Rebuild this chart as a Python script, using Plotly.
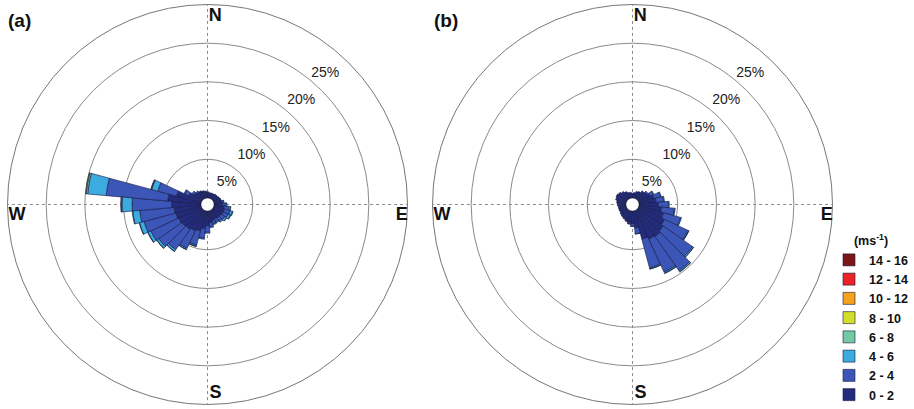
import plotly.graph_objects as go

# Direction sectors (degrees, clockwise from north), 10-degree bins
DIRECTIONS = list(range(0, 360, 10))

# Speed classes (m/s) and their colours, slowest first
SPEED_BINS = ["0 - 2", "2 - 4", "4 - 6", "6 - 8", "8 - 10", "10 - 12", "12 - 14", "14 - 16"]
BIN_COLORS = ["#232b7c", "#3c56b8", "#3cabe0", "#74c8a2", "#d2de2a", "#f7a21d", "#ec2226", "#7e1517"]

# Panel (a): frequency (%) per direction for each speed class
A_0_2 = [0.8, 0.7, 0.7, 0.7, 0.8, 0.8, 0.9, 0.9, 1.0, 1.1, 1.3, 1.4, 1.4, 1.3, 1.3, 1.2, 1.3, 1.5,
         1.9, 2.3, 2.7, 2.9, 3.1, 3.2, 3.3, 3.4, 3.5, 3.8, 4.3, 3.3, 1.8, 1.3, 1.1, 1.0, 0.9, 0.9]
A_2_4 = [0, 0, 0, 0, 0, 0, 0, 0.1, 0.25, 0.45, 0.6, 0.8, 0.7, 0.6, 0.5, 0.45, 0.45, 0.55,
         0.85, 1.25, 1.9, 2.5, 3.2, 3.65, 3.95, 4.25, 4.45, 5.1, 8.0, 2.5, 0.6, 0.3, 0.2, 0.1, 0.1, 0]
A_4_6 = [0, 0, 0, 0, 0, 0, 0, 0, 0.05, 0.12, 0.22, 0.3, 0.3, 0.25, 0.17, 0.12, 0.12, 0.12,
         0.12, 0.12, 0.15, 0.17, 0.25, 0.3, 0.4, 0.6, 0.9, 1.3, 2.4, 0.8, 0.1, 0, 0, 0, 0, 0]
A_6_8 = [0, 0, 0, 0, 0, 0, 0, 0, 0, 0, 0.06, 0.08, 0.08, 0.05, 0, 0, 0, 0,
         0, 0, 0.04, 0.04, 0.04, 0.04, 0.04, 0.05, 0.07, 0.12, 0.2, 0.1, 0, 0, 0, 0, 0, 0]
A_8_10 = [0, 0, 0, 0, 0, 0, 0, 0, 0, 0, 0, 0, 0, 0, 0, 0, 0, 0,
          0, 0, 0, 0, 0, 0, 0, 0, 0, 0.03, 0.08, 0.02, 0, 0, 0, 0, 0, 0]

# Panel (b): frequency (%) per direction for each speed class
B_0_2 = [0.6, 0.7, 0.9, 1.0, 1.2, 1.4, 1.7, 2.0, 2.2, 2.5, 2.9, 3.3, 3.7, 4.0, 4.2, 4.1, 3.8, 2.2,
         1.6, 1.5, 1.4, 1.3, 1.2, 1.1, 1.0, 1.0, 1.0, 1.1, 1.2, 1.4, 1.5, 1.4, 1.2, 1.0, 0.8, 0.7]
B_2_4 = [0, 0, 0, 0, 0.1, 0.2, 0.45, 0.9, 1.0, 1.3, 1.7, 2.3, 3.35, 4.6, 5.4, 4.7, 3.85, 0.75,
         0.35, 0.18, 0.08, 0, 0, 0, 0, 0, 0, 0, 0, 0, 0, 0, 0, 0, 0, 0]
B_4_6 = [0, 0, 0, 0, 0, 0, 0.05, 0.1, 0.1, 0.1, 0.1, 0.1, 0.12, 0.17, 0.17, 0.17, 0.13, 0.05,
         0.05, 0.02, 0, 0, 0, 0, 0, 0, 0, 0, 0, 0, 0, 0, 0, 0, 0, 0]
B_6_8 = [0, 0, 0, 0, 0, 0, 0, 0, 0, 0, 0, 0, 0.03, 0.03, 0.03, 0.03, 0.02, 0,
         0, 0, 0, 0, 0, 0, 0, 0, 0, 0, 0, 0, 0, 0, 0, 0, 0, 0]
EMPTY = [0] * 36

PANEL_A = [A_0_2, A_2_4, A_4_6, A_6_8, A_8_10, EMPTY, EMPTY, EMPTY]
PANEL_B = [B_0_2, B_2_4, B_4_6, B_6_8, EMPTY, EMPTY, EMPTY, EMPTY]

# Ring labels and compass points
RING_VALUES = [5, 10, 15, 20, 25]
RING_LABELS = ["5%", "10%", "15%", "20%", "25%"]
COMPASS_TEXT = ["N", "E", "S", "W"]

# label placement (radius inset in %, bearing in degrees)
RING_LABEL_INSET = [2.1, 2.35, 2.65, 2.75, 3.1]
RING_LABEL_BEARING = 42
COMPASS_R = [23.45, 24.3, 23.6, 23.8]
COMPASS_BEARING = [2.4, 93.1, 177.6, 266.8]

FONT = "Arial, Liberation Sans, sans-serif"
RMAX = 25

fig = go.Figure()

for panel, subplot, show in ((PANEL_A, "polar", True), (PANEL_B, "polar2", False)):
    for name, color, vals in zip(SPEED_BINS, BIN_COLORS, panel):
        fig.add_trace(go.Barpolar(
            r=[v if v > 0 else None for v in vals],
            theta=DIRECTIONS,
            name=name,
            subplot=subplot,
            marker=dict(color=color, line=dict(color="#14183f", width=0.6)),
            showlegend=show,
            legendgroup=name,
            hoverinfo="skip",
        ))
    # percentage labels along the north-east diagonal, just inside each ring
    fig.add_trace(go.Scatterpolar(
        r=[v - d for v, d in zip(RING_VALUES, RING_LABEL_INSET)],
        theta=[RING_LABEL_BEARING] * len(RING_VALUES),
        mode="text",
        text=RING_LABELS,
        textfont=dict(family=FONT, size=14, color="#222"),
        subplot=subplot,
        showlegend=False,
        hoverinfo="skip",
    ))
    # compass letters just inside the rim
    fig.add_trace(go.Scatterpolar(
        r=COMPASS_R,
        theta=COMPASS_BEARING,
        mode="text",
        text=COMPASS_TEXT,
        textfont=dict(family=FONT, size=18, color="#111", weight="bold"),
        subplot=subplot,
        showlegend=False,
        hoverinfo="skip",
        cliponaxis=False,
    ))

W, H = 914, 409


def polar_layout(x0, x1):
    return dict(
        domain=dict(x=[x0 / W, x1 / W], y=[4.5 / H, 404.5 / H]),
        hole=0.033,
        bgcolor="white",
        barmode="stack",
        bargap=0,
        radialaxis=dict(
            range=[0, RMAX],
            tickvals=RING_VALUES[:-1],
            showticklabels=False,
            ticks="",
            showline=False,
            gridcolor="#8a8a8a",
            gridwidth=1,
            layer="below traces",
        ),
        angularaxis=dict(
            rotation=90,
            direction="clockwise",
            tickvals=[0, 90, 180, 270],
            showticklabels=False,
            ticks="",
            showgrid=True,
            gridcolor="#8a8a8a",
            griddash="dot",
            gridwidth=1,
            showline=True,
            linecolor="#777",
            linewidth=1,
            layer="below traces",
        ),
    )


fig.update_layout(
    width=W,
    height=H,
    margin=dict(l=0, r=0, t=0, b=0, autoexpand=False),
    paper_bgcolor="white",
    plot_bgcolor="white",
    font=dict(family=FONT, color="#111"),
    polar=polar_layout(7, 408),
    polar2=polar_layout(432, 833),
    showlegend=True,
    legend=dict(
        x=829 / W,
        y=1 - 229 / H,
        xanchor="left",
        yanchor="top",
        traceorder="reversed",
        title=dict(text="(ms<sup>-1</sup>)", side="top center",
                   font=dict(family=FONT, size=12.5, weight="bold")),
        font=dict(family=FONT, size=12.5, color="#111", weight="bold"),
        bgcolor="rgba(0,0,0,0)",
        itemclick=False,
    ),
    annotations=[
        dict(text="<b>(a)</b>", x=6 / W, y=1 - 8 / H, xref="paper", yref="paper",
             xanchor="left", yanchor="top", showarrow=False,
             font=dict(family=FONT, size=19, color="#111")),
        dict(text="<b>(b)</b>", x=432 / W, y=1 - 8 / H, xref="paper", yref="paper",
             xanchor="left", yanchor="top", showarrow=False,
             font=dict(family=FONT, size=19, color="#111")),
    ],
)

fig.write_html("out.html")
